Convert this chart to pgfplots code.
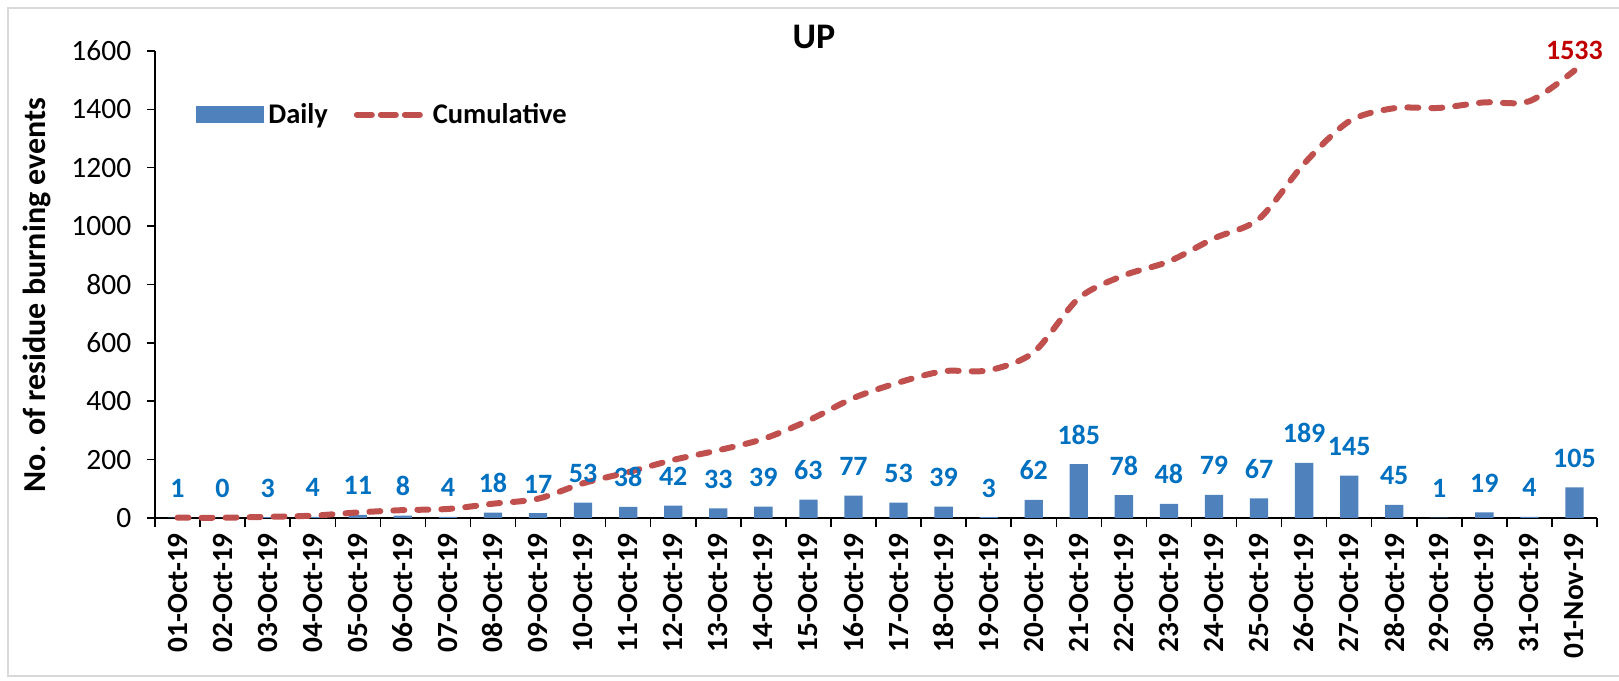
\documentclass[border=0pt]{standalone}
\usepackage{fontspec}
\setmainfont{Carlito}
\usepackage{pgfplots}
\usepackage{pgfplotstable}
\pgfplotsset{compat=1.18}
\definecolor{barblue}{RGB}{79,129,189}
\definecolor{linered}{RGB}{192,80,77}
\definecolor{labelblue}{RGB}{0,112,192}
\definecolor{darkred}{RGB}{192,0,0}
\definecolor{framegray}{RGB}{217,217,217}
\newcommand{\xfont}{\fontsize{29.3}{31}\selectfont\bfseries}
\newcommand{\ytfont}{\fontsize{29.5}{31}\selectfont}
\newcommand{\labfont}{\fontsize{28}{30}\selectfont\bfseries}
\newcommand{\legfont}{\fontsize{28.5}{30}\selectfont\bfseries}
\newcommand{\titlefont}{\fontsize{36}{38}\selectfont\bfseries}
\newcommand{\ylabfont}{\fontsize{32}{34}\selectfont\bfseries}

\pgfplotstableread{
x daily cum
0 1 1
1 0 1
2 3 4
3 4 8
4 11 19
5 8 27
6 4 31
7 18 49
8 17 66
9 53 119
10 38 157
11 42 199
12 33 232
13 39 271
14 63 334
15 77 411
16 53 464
17 39 503
18 3 506
19 62 568
20 185 753
21 78 831
22 48 879
23 79 958
24 67 1025
25 189 1214
26 145 1359
27 45 1404
28 1 1405
29 19 1424
30 4 1428
31 105 1533
}\data

\begin{document}
\begin{tikzpicture}
\path[use as bounding box] (0pt,0pt) rectangle (1619pt,680pt);
\draw[framegray, line width=1.5pt] (8pt,4pt) rectangle (1630pt,672pt);
\begin{axis}[
  at={(155pt,162pt)}, anchor=south west,
  scale only axis, width=1442pt, height=467pt,
  xmin=-0.5, xmax=31.5, ymin=0, ymax=1600,
  axis x line*=bottom, axis y line*=left,
  axis line style={-, line width=1.5pt, black},
  tick align=outside, major tick length=8pt, minor tick length=9pt,
  tick style={line width=1.5pt, black},
  xtick={0,1,...,31},
  xticklabels={01-Oct-19,02-Oct-19,03-Oct-19,04-Oct-19,05-Oct-19,06-Oct-19,07-Oct-19,08-Oct-19,09-Oct-19,10-Oct-19,11-Oct-19,12-Oct-19,13-Oct-19,14-Oct-19,15-Oct-19,16-Oct-19,17-Oct-19,18-Oct-19,19-Oct-19,20-Oct-19,21-Oct-19,22-Oct-19,23-Oct-19,24-Oct-19,25-Oct-19,26-Oct-19,27-Oct-19,28-Oct-19,29-Oct-19,30-Oct-19,31-Oct-19,01-Nov-19},
  minor xtick={-0.5,0.5,...,31.5},
  major x tick style={draw=none},
  minor x tick style={draw=black, line width=1.5pt},
  xticklabel style={yshift=-7pt, rotate=90, anchor=east, inner sep=0pt, font=\xfont},
  ytick={0,200,...,1600},
  yticklabel style={anchor=east, inner sep=0pt, xshift=-15.5pt, font=\ytfont},
  /pgf/number format/assume math mode=true,
  /pgf/number format/1000 sep={},
  clip=false,
  legend style={at={(0.0285,0.8636)}, anchor=west, draw=none, fill=none,
    inner sep=0pt, font=\legfont, nodes={inner sep=4pt},
    /tikz/every even column/.append style={column sep=22pt}},
  legend columns=2,
  legend cell align=left,
]
\addplot[ybar, bar width=18.3pt, fill=barblue, draw=none,
  legend image code/.code={\fill[barblue] (0pt,-8.5pt) rectangle (68pt,8.5pt);}]
  table[x=x, y=daily]{\data};
\addlegendentry{Daily}
\addplot[smooth, linered, line width=6pt, dash pattern=on 11pt off 13pt, line cap=round,
  legend image code/.code={\path (0pt,0pt) -- (69pt,0pt);\draw[linered, line width=6pt, dash pattern=on 12pt off 12pt, line cap=round] (3pt,0pt) -- (63pt,0pt);}]
  table[x=x, y=cum]{\data};
\addlegendentry{Cumulative}
\addplot[draw=none, mark=none, forget plot, nodes near coords,
  every node near coord/.append style={anchor=base, yshift=20pt, inner sep=0pt, font=\labfont, text=labelblue}]
  table[x=x, y=daily]{\data};
\addplot[draw=none, mark=none, forget plot, nodes near coords,
  every node near coord/.append style={anchor=base, yshift=11pt, inner sep=0pt, font=\labfont, text=darkred}]
  coordinates {(31,1533)};
\end{axis}
\node[anchor=base, font=\titlefont] at (814pt,631.7pt) {UP};
\node[rotate=90, anchor=base, font=\ylabfont] at (45pt,385pt) {No. of residue burning events};
\end{tikzpicture}
\end{document}
